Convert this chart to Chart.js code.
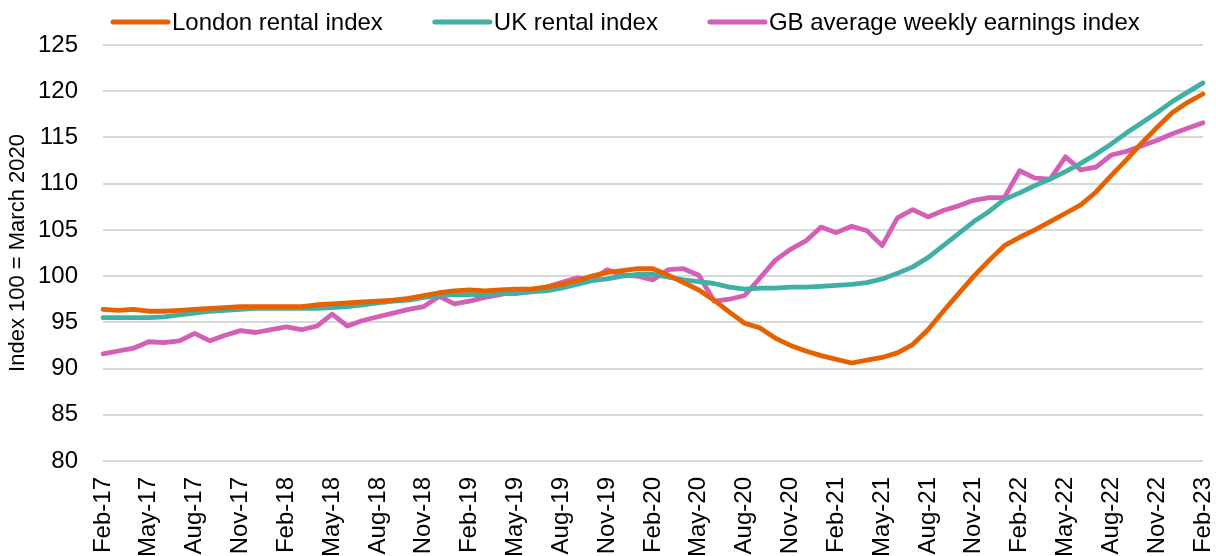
<!DOCTYPE html>
<html>
<head>
<meta charset="utf-8">
<script src="https://cdn.jsdelivr.net/npm/chart.js@4"></script>
<style>
  html, body { margin: 0; padding: 0; background: #fff; }
  #wrap { width: 1216px; height: 556px; }
</style>
</head>
<body>
<div id="wrap"><canvas id="mycanvas" width="1216" height="556"></canvas></div>
<script>
var months = [
  "Feb-17","Mar-17","Apr-17","May-17","Jun-17","Jul-17","Aug-17","Sep-17","Oct-17","Nov-17","Dec-17","Jan-18",
  "Feb-18","Mar-18","Apr-18","May-18","Jun-18","Jul-18","Aug-18","Sep-18","Oct-18","Nov-18","Dec-18","Jan-19",
  "Feb-19","Mar-19","Apr-19","May-19","Jun-19","Jul-19","Aug-19","Sep-19","Oct-19","Nov-19","Dec-19","Jan-20",
  "Feb-20","Mar-20","Apr-20","May-20","Jun-20","Jul-20","Aug-20","Sep-20","Oct-20","Nov-20","Dec-20","Jan-21",
  "Feb-21","Mar-21","Apr-21","May-21","Jun-21","Jul-21","Aug-21","Sep-21","Oct-21","Nov-21","Dec-21","Jan-22",
  "Feb-22","Mar-22","Apr-22","May-22","Jun-22","Jul-22","Aug-22","Sep-22","Oct-22","Nov-22","Dec-22","Jan-23",
  "Feb-23"
];

var london = [
  96.4, 96.3, 96.4, 96.2, 96.2, 96.3, 96.4, 96.5, 96.6, 96.7, 96.7, 96.7,
  96.7, 96.7, 96.9, 97.0, 97.1, 97.2, 97.3, 97.4, 97.6, 97.9, 98.2, 98.4,
  98.5, 98.4, 98.5, 98.6, 98.6, 98.8, 99.1, 99.5, 100.0, 100.4, 100.6, 100.8,
  100.8, 100.1, 99.3, 98.5, 97.4, 96.1, 94.9, 94.4, 93.3, 92.5, 91.9, 91.4,
  91.0, 90.6, 90.9, 91.2, 91.7, 92.6, 94.2, 96.2, 98.1, 100.0, 101.7, 103.3,
  104.2, 105.0, 105.9, 106.8, 107.7, 109.1, 110.9, 112.6, 114.4, 116.1, 117.7, 118.8,
  119.7
];

var uk = [
  95.5, 95.5, 95.5, 95.5, 95.6, 95.8, 96.0, 96.2, 96.3, 96.4, 96.5, 96.5,
  96.5, 96.5, 96.5, 96.6, 96.7, 96.9, 97.1, 97.3, 97.4, 97.7, 97.9, 98.0,
  98.0, 98.0, 98.1, 98.1, 98.3, 98.4, 98.7, 99.1, 99.5, 99.7, 100.0, 100.2,
  100.2, 99.9, 99.6, 99.4, 99.2, 98.8, 98.6, 98.7, 98.7, 98.8, 98.8, 98.9,
  99.0, 99.1, 99.3, 99.7, 100.3, 101.0, 102.0, 103.3, 104.6, 105.9, 107.0, 108.3,
  109.0, 109.8, 110.5, 111.3, 112.2, 113.2, 114.3, 115.5, 116.6, 117.7, 118.9, 119.9,
  120.9
];

var earnings = [
  91.6, 91.9, 92.2, 92.9, 92.8, 93.0, 93.8, 93.0, 93.6, 94.1, 93.9, 94.2,
  94.5, 94.2, 94.6, 95.9, 94.6, 95.2, 95.6, 96.0, 96.4, 96.7, 97.8, 97.0,
  97.3, 97.7, 98.0, 98.4, 98.4, 98.8, 99.3, 99.8, 99.6, 100.7, 100.1, 100.0,
  99.6, 100.7, 100.8, 100.1, 97.3, 97.5, 97.9, 99.8, 101.7, 102.9, 103.8, 105.3,
  104.7, 105.4, 104.9, 103.3, 106.3, 107.2, 106.4, 107.1, 107.6, 108.2, 108.5, 108.5,
  111.4, 110.6, 110.5, 112.9, 111.5, 111.8, 113.1, 113.5, 114.1, 114.7, 115.4, 116.0,
  116.6
];

var seriesNames = ["London rental index", "UK rental index", "GB average weekly earnings index"];
var yTicks = [80, 85, 90, 95, 100, 105, 110, 115, 120, 125];

var FONT = "'Liberation Sans', Arial, sans-serif";

// legend drawn by hand so the line/text spacing matches the original
var lineLegend = {
  id: "lineLegend",
  afterDraw: function(chart){
    var ctx = chart.ctx;
    var x = 113, y = 22;
    ctx.save();
    ctx.font = "24px " + FONT;
    ctx.textBaseline = "middle";
    chart.data.datasets.forEach(function(ds){
      ctx.strokeStyle = ds.borderColor;
      ctx.lineWidth = 5;
      ctx.lineCap = "round";
      ctx.beginPath();
      ctx.moveTo(x, y);
      ctx.lineTo(x + 55, y);
      ctx.stroke();
      ctx.fillStyle = "#000";
      ctx.fillText(ds.label, x + 59, y + 1);
      x += 59 + ctx.measureText(ds.label).width + 52;
    });
    ctx.restore();
  }
};

var chartdata = {
  labels: months,
  datasets: [
    { label: seriesNames[0], data: london, borderColor: "#E66100", backgroundColor: "#E66100" },
    { label: seriesNames[1], data: uk, borderColor: "#40B0A6", backgroundColor: "#40B0A6" },
    { label: seriesNames[2], data: earnings, borderColor: "#D35FB7", backgroundColor: "#D35FB7" }
  ]
};
chartdata.datasets.forEach(function(ds){
  ds.borderWidth = 4.8;
  ds.pointRadius = 0;
  ds.tension = 0;
  ds.borderCapStyle = "round";
  ds.borderJoinStyle = "round";
});

var ctx = document.getElementById("mycanvas");
var lineGraph = new Chart(ctx, {
  type: "line",
  data: chartdata,
  plugins: [lineLegend],
  options: {
    responsive: false,
    animation: false,
    layout: { padding: { top: 45, right: 13, left: 0, bottom: 0 } },
    plugins: {
      legend: { display: false },
      tooltip: { enabled: false }
    },
    scales: {
      x: {
        offset: false,
        grid: { display: false },
        border: { display: false },
        afterFit: function(scale){
          scale.height = 95;
          scale.paddingLeft = 0;
          scale.paddingRight = 0;
        },
        ticks: {
          autoSkip: false,
          minRotation: 90,
          maxRotation: 90,
          padding: 8,
          color: "#000",
          font: { family: FONT, size: 24 },
          callback: function(val, i){ return i % 3 === 0 ? months[i] : null; }
        }
      },
      y: {
        min: 80,
        max: 125,
        afterBuildTicks: function(scale){
          scale.ticks = yTicks.map(function(v){ return { value: v }; });
        },
        afterFit: function(scale){ scale.width = 103; },
        grid: { color: "#d9d9d9", lineWidth: 2, drawTicks: false },
        border: { display: false },
        ticks: {
          padding: 25,
          color: "#000",
          font: { family: FONT, size: 24 }
        },
        title: {
          display: true,
          text: "Index 100 = March 2020",
          color: "#000",
          padding: { top: 5, bottom: 0 },
          font: { family: FONT, size: 22 }
        }
      }
    }
  }
});
</script>
</body>
</html>
